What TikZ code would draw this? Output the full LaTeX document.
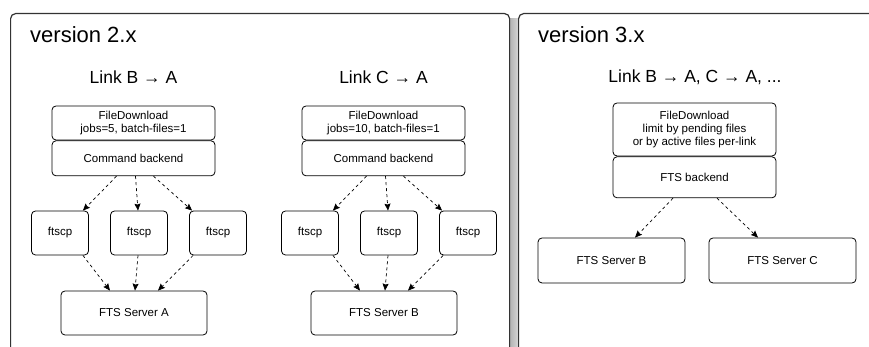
\documentclass[tikz,border=0pt]{standalone}
\usepackage{fontspec}
\setmainfont{Liberation Sans}
\usetikzlibrary{arrows.meta,positioning}

\begin{document}
\begin{tikzpicture}[x=1pt, y=1pt,
  panel/.style={draw=black!80, line width=1.2pt, rounded corners=5pt, fill=white},
  block/.style={draw, line width=0.8pt, rounded corners=4pt, fill=white, align=center,
    inner sep=0pt, font=\fontsize{11.5}{12.8}\selectfont},
  heading/.style={anchor=base west, inner sep=0pt, font=\fontsize{22}{26}\selectfont},
  linktitle/.style={inner sep=0pt, font=\fontsize{17.5}{20}\selectfont},
  flow/.style={-{Stealth[length=7pt, width=6pt, inset=1pt]}, dash pattern=on 3pt off 3pt, line width=0.7pt}
]
\useasboundingbox (0,0) rectangle (869,347);
\clip (0,0) rectangle (869,347);

% panels
\shade[left color=gray!65, right color=gray!30] (508,-20) rectangle (519,328);
\node[panel, anchor=north west, minimum width=499pt, minimum height=380pt] (v2) at (10,334) {};
\node[panel, anchor=north west, minimum width=380pt, minimum height=380pt] (v3) at (518,334) {};
\node[heading] (v2title) at (30,304) {version 2.x};
\node[heading] (v3title) at (538,304) {version 3.x};

% version 2.x, link B -> A
\node[linktitle] (linkBA) at (133.5,270) {Link B → A};
\node[block, minimum width=163pt, minimum height=34pt] (fdA) at (133.5,224) {FileDownload\\jobs=5, batch-files=1};
\node[block, minimum width=163pt, minimum height=35pt, below=0pt of fdA] (cmdA) {Command backend};
\node[block, minimum width=57pt, minimum height=44pt] (ftA1) at (60,114) {ftscp};
\node[block, minimum width=57pt, minimum height=44pt] (ftA2) at (139,114) {ftscp};
\node[block, minimum width=57pt, minimum height=44pt] (ftA3) at (218,114) {ftscp};
\node[block, minimum width=146pt, minimum height=44pt] (srvA) at (134,34) {FTS Server A};

\draw[flow] ([xshift=-17pt]cmdA.south) -- ([xshift=-6pt]ftA1.north east);
\draw[flow] ([xshift=2pt]cmdA.south) -- ([xshift=-1pt]ftA2.north);
\draw[flow] ([xshift=20pt]cmdA.south) -- ([xshift=3pt]ftA3.north west);
\draw[flow] ([xshift=-6pt]ftA1.south east) -- ([xshift=-24pt]srvA.north);
\draw[flow] ([xshift=-1pt]ftA2.south) -- ([xshift=1pt]srvA.north);
\draw[flow] ([xshift=4pt]ftA3.south west) -- ([xshift=24pt]srvA.north);

% version 2.x, link C -> A
\node[linktitle] (linkCA) at (383.5,270) {Link C → A};
\node[block, minimum width=163pt, minimum height=34pt] (fdB) at (383.5,224) {FileDownload\\jobs=10, batch-files=1};
\node[block, minimum width=163pt, minimum height=35pt, below=0pt of fdB] (cmdB) {Command backend};
\node[block, minimum width=57pt, minimum height=44pt] (ftB1) at (310,114) {ftscp};
\node[block, minimum width=57pt, minimum height=44pt] (ftB2) at (389,114) {ftscp};
\node[block, minimum width=57pt, minimum height=44pt] (ftB3) at (468,114) {ftscp};
\node[block, minimum width=146pt, minimum height=44pt] (srvB) at (384,34) {FTS Server B};

\draw[flow] ([xshift=-17pt]cmdB.south) -- ([xshift=-6pt]ftB1.north east);
\draw[flow] ([xshift=2pt]cmdB.south) -- ([xshift=-1pt]ftB2.north);
\draw[flow] ([xshift=20pt]cmdB.south) -- ([xshift=3pt]ftB3.north west);
\draw[flow] ([xshift=-6pt]ftB1.south east) -- ([xshift=-24pt]srvB.north);
\draw[flow] ([xshift=-1pt]ftB2.south) -- ([xshift=1pt]srvB.north);
\draw[flow] ([xshift=4pt]ftB3.south west) -- ([xshift=24pt]srvB.north);

% version 3.x
\node[linktitle] (linkall) at (695,270) {Link B → A, C → A, ...};
\node[block, minimum width=163pt, minimum height=53pt] (fdall) at (694.5,217.5) {FileDownload\\limit by pending files\\or by active files per-link};
\node[block, minimum width=163pt, minimum height=41pt, below=0pt of fdall] (ftsback) {FTS backend};
\node[block, minimum width=147pt, minimum height=45pt] (srvB3) at (611.5,86.5) {FTS Server B};
\node[block, minimum width=147pt, minimum height=45pt] (srvC3) at (782.5,86.5) {FTS Server C};

\draw[flow] ([xshift=-21.5pt]ftsback.south) -- ([xshift=23.5pt]srvB3.north);
\draw[flow] ([xshift=22.5pt]ftsback.south) -- ([xshift=-24.5pt]srvC3.north);
\end{tikzpicture}
\end{document}
